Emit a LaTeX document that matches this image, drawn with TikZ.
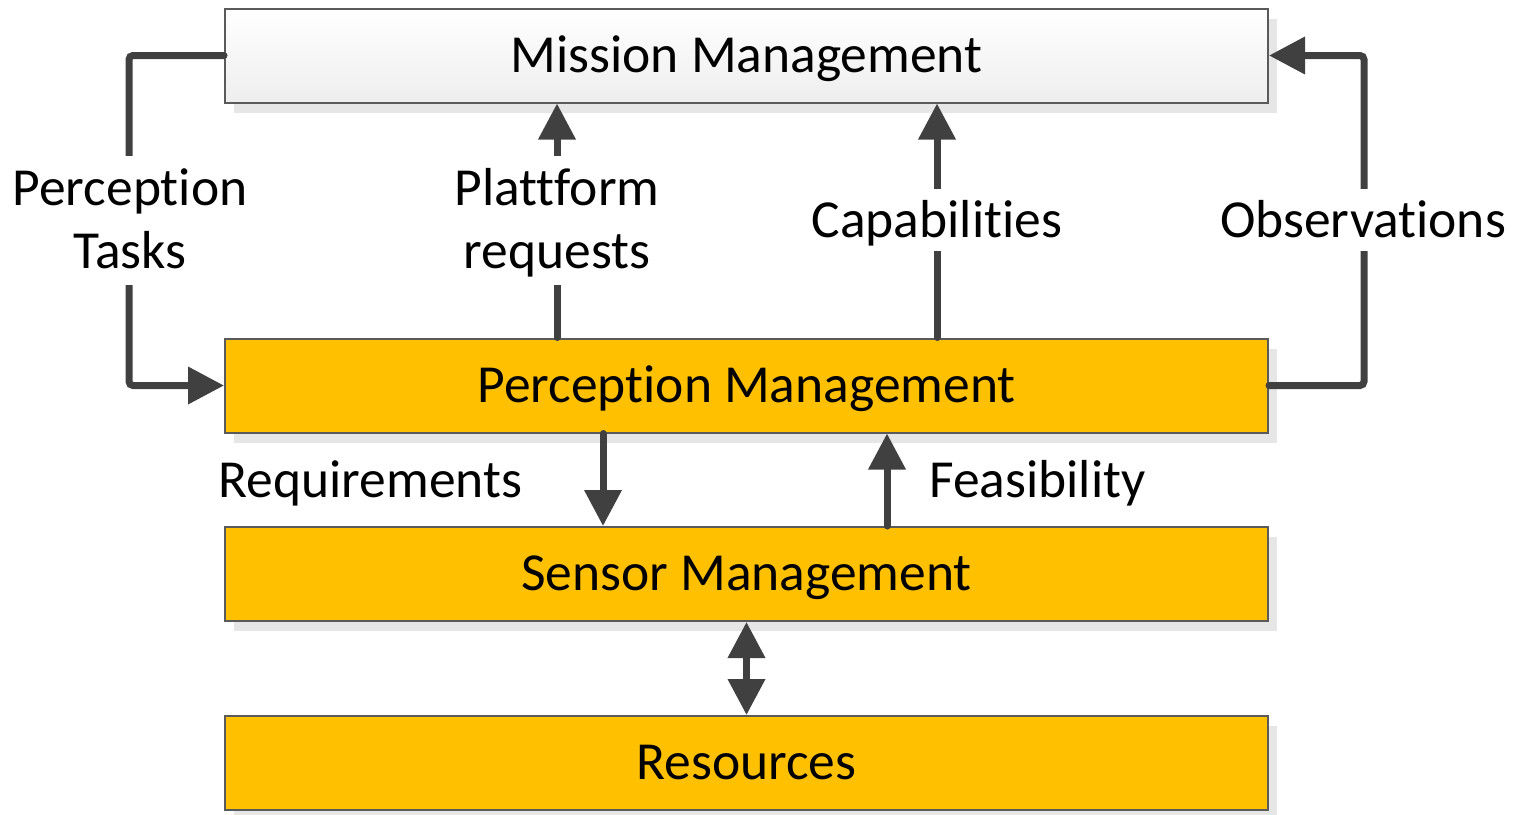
\documentclass[tikz,border=0pt]{standalone}
\usepackage{fontspec}
\setmainfont{Carlito}[Ligatures=NoCommon]
\usetikzlibrary{arrows.meta,shadows,calc}
\definecolor{boxorange}{HTML}{FFC000}
\definecolor{boxline}{HTML}{5A5A5A}
\definecolor{connc}{HTML}{404040}
\definecolor{shadowc}{HTML}{E6E6E6}
\definecolor{mmbottom}{HTML}{EEEEEE}
\newcommand{\toprl}{\rule{0pt}{41pt}}
\newcommand{\botrl}{\rule[-9pt]{0pt}{9pt}}
\begin{document}
\begin{tikzpicture}[x=1pt,y=-1pt,
  font=\fontsize{53.5pt}{63pt}\selectfont,
  boxbase/.style={rectangle, draw=boxline, line width=2pt, minimum width=1043pt,
    minimum height=94pt, inner sep=0pt, text height=40pt, text depth=7pt,
    drop shadow={shadow xshift=9pt, shadow yshift=-10pt, fill=shadowc, opacity=1}},
  orangebox/.style={boxbase, fill=boxorange},
  greybox/.style={boxbase, top color=white, bottom color=mmbottom},
  conn/.style={draw=connc, line width=7pt, line cap=round, rounded corners=4pt,
    -{Triangle[width=36pt,length=36pt]}},
  dconn/.style={draw=connc, line width=7pt,
    {Triangle[width=36pt,length=36pt]}-{Triangle[width=36pt,length=36pt]}},
  lbl/.style={fill=white, inner xsep=4pt, inner ysep=6pt,
    text height=42pt, text depth=8pt},
  lbltwo/.style={fill=white, inner xsep=4pt, inner ysep=8pt, align=center},
  plainlbl/.style={inner sep=0pt, text height=42pt, text depth=8pt}
]
\useasboundingbox (0,0) rectangle (1515,814);

\node[greybox]   (mm) at (746.5,55.5) {Mission Management};
\node[orangebox] (pm) at (746.5,385.5) {Perception Management};
\node[orangebox] (sm) at (746.5,574) {Sensor Management};
\node[orangebox] (rs) at (746.5,763) {Resources};

\coordinate (xp) at (557,0);
\coordinate (xc) at (937,0);
\coordinate (xr) at (603,0);
\coordinate (xf) at (887,0);

\draw[conn] (mm.west) -- ++(-95,0) |- (pm.west);
\draw[conn] (pm.north -| xp) -- (mm.south -| xp);
\draw[conn] (pm.north -| xc) -- (mm.south -| xc);
\draw[conn] (pm.east) -- ++(95,0) |- (mm.east);
\draw[conn] (pm.south -| xr) -- (sm.north -| xr);
\draw[conn] (sm.north -| xf) -- (pm.south -| xf);
\draw[dconn] (sm.south) -- (rs.north);

\node[lbltwo] (lpt) at (130,220.5) {\toprl Perception\\Tasks\botrl};
\node[lbltwo] (lpr) at (557,220.5) {\toprl Plattform\\requests\botrl};
\node[lbl] (lcap) at (937,220) {Capabilities};
\node[lbl] (lobs) at (1363,220) {Observations};
\node[plainlbl] (lreq) at (370.5,480) {Requirements};
\node[plainlbl] (lfea) at (1037.5,480) {Feasibility};
\end{tikzpicture}
\end{document}
